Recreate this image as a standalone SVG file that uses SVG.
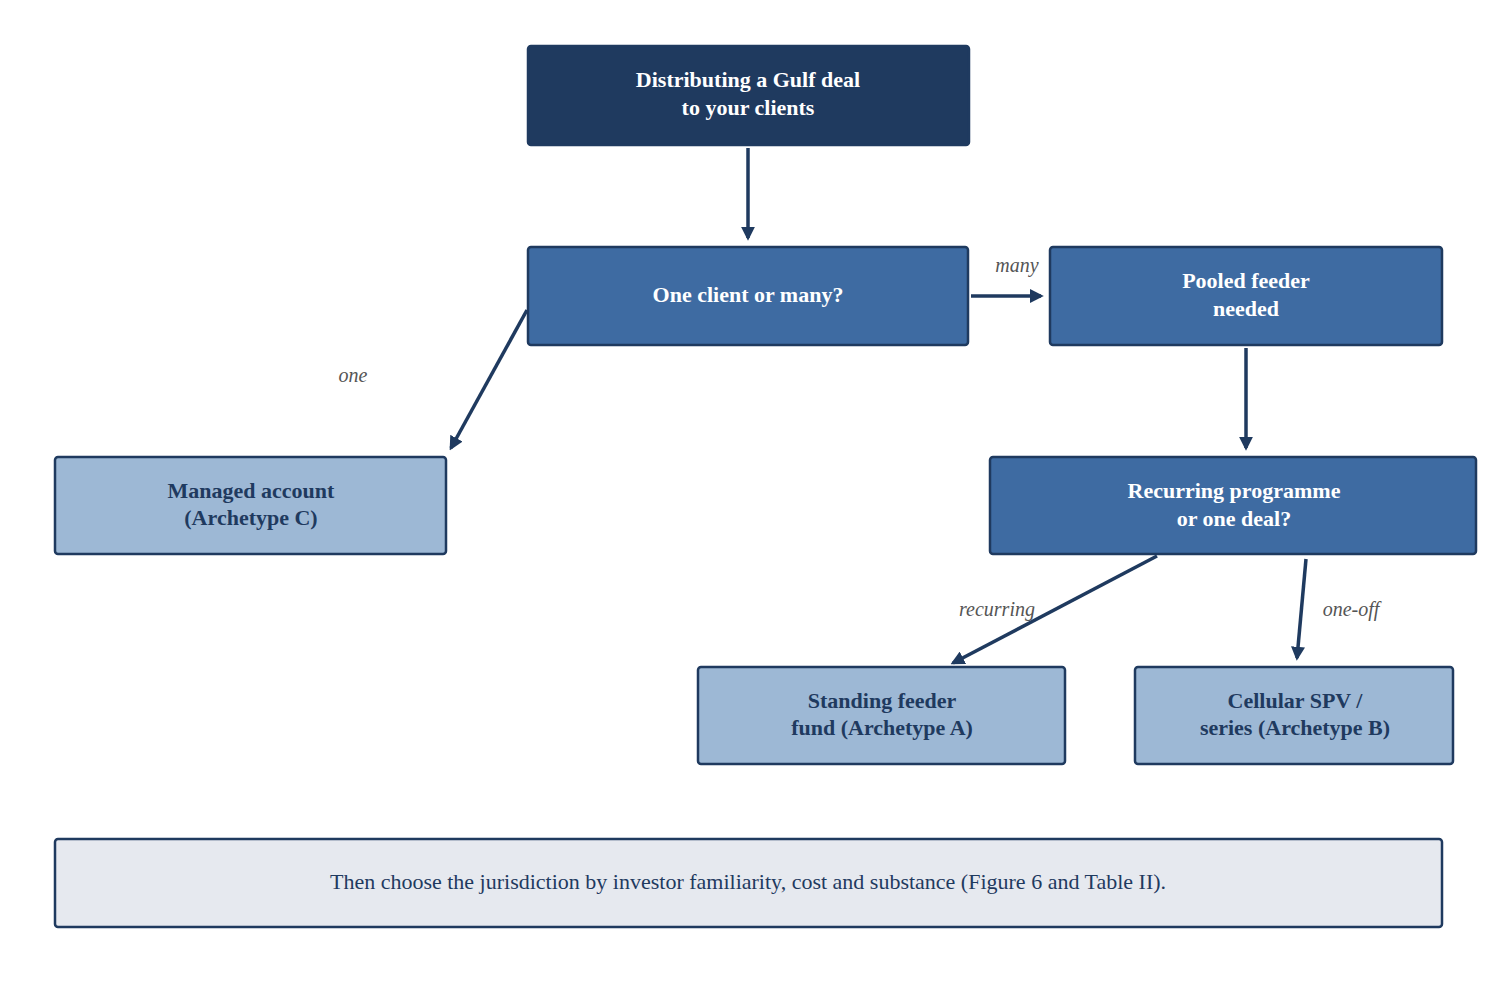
<svg xmlns="http://www.w3.org/2000/svg" width="1497" height="994" viewBox="0 0 1497 994">
<style>
.b{stroke:#1f3a5f;stroke-width:2.5}
.d{fill:#1f3a5f}.m{fill:#3e6ba2}.l{fill:#9db8d5}.n{fill:#e6e9ef}
text{font-family:"Liberation Serif",serif;text-anchor:middle}
.t{font-size:22px;font-weight:bold}
.w{fill:#fff}.k{fill:#1f3a5f}
.e{font-size:20px;font-style:italic;fill:#555}
.c{stroke:#1f3a5f;stroke-width:3.5;fill:none;marker-end:url(#a)}
</style>
<defs><marker id="a" viewBox="0 0 10 10" refX="8" refY="5" markerWidth="4" markerHeight="4" orient="auto" markerUnits="strokeWidth"><path d="M0,0L10,5L0,10z" fill="#1f3a5f"/></marker></defs>
<rect width="1497" height="994" fill="#fff"/>
<g id="n1"><rect x="528" y="46" width="441" height="99" rx="3" class="d b"/><text class="t w" x="748" y="87">Distributing a Gulf deal</text><text class="t w" x="748" y="115">to your clients</text></g>
<g id="n2"><rect x="528" y="247" width="440" height="98" rx="3" class="m b"/><text class="t w" x="748" y="302">One client or many?</text></g>
<g id="n3"><rect x="1050" y="247" width="392" height="98" rx="3" class="m b"/><text class="t w" x="1246" y="288">Pooled feeder</text><text class="t w" x="1246" y="316">needed</text></g>
<g id="n4"><rect x="55" y="457" width="391" height="97" rx="3" class="l b"/><text class="t k" x="251" y="498">Managed account</text><text class="t k" x="251" y="525">(Archetype C)</text></g>
<g id="n5"><rect x="990" y="457" width="486" height="97" rx="3" class="m b"/><text class="t w" x="1234" y="498">Recurring programme</text><text class="t w" x="1234" y="526">or one deal?</text></g>
<g id="n6"><rect x="698" y="667" width="367" height="97" rx="3" class="l b"/><text class="t k" x="882" y="708">Standing feeder</text><text class="t k" x="882" y="735">fund (Archetype A)</text></g>
<g id="n7"><rect x="1135" y="667" width="318" height="97" rx="3" class="l b"/><text class="t k" x="1295" y="708">Cellular SPV /</text><text class="t k" x="1295" y="735">series (Archetype B)</text></g>
<g id="n8"><rect x="55" y="839" width="1387" height="88" rx="3" class="n b"/><text x="748" y="889" style="font-size:22px;fill:#1f3a5f">Then choose the jurisdiction by investor familiarity, cost and substance (Figure 6 and Table II).</text></g>
<g id="connectors">
<path class="c" d="M748,148V238"/>
<path class="c" d="M971,296H1041"/>
<path class="c" d="M527,310L451,448"/>
<path class="c" d="M1246,348V448"/>
<path class="c" d="M1157,556L953,663"/>
<path class="c" d="M1306,559L1297,658"/>
<text class="e" x="1017" y="272">many</text>
<text class="e" x="353" y="382">one</text>
<text class="e" x="997" y="616">recurring</text>
<text class="e" x="1351" y="616">one-off</text>
</g>
</svg>
